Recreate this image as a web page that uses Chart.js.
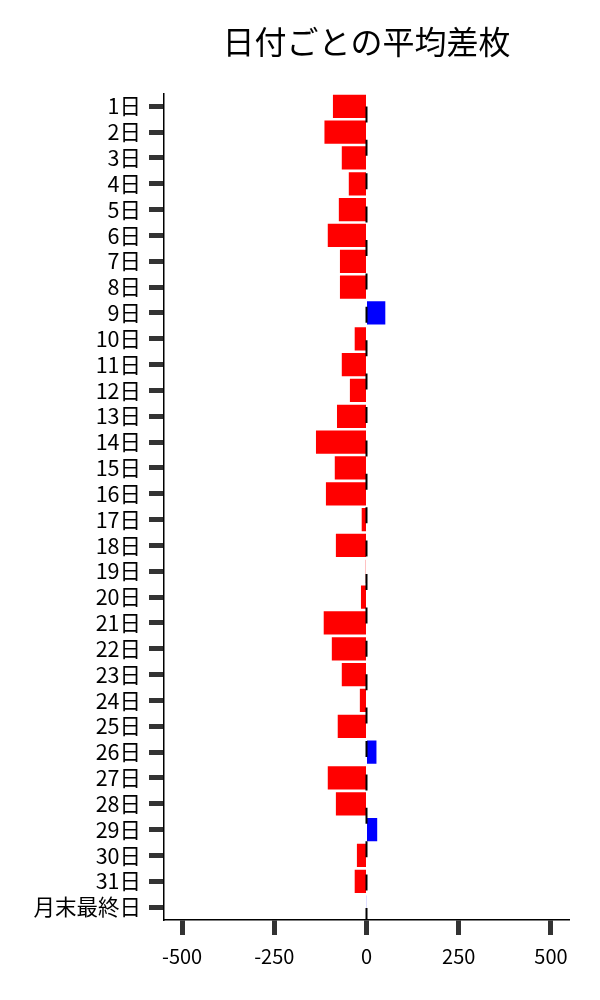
<!DOCTYPE html>
<html>
<head>
<meta charset="utf-8">
<script src="https://cdn.jsdelivr.net/npm/chart.js@4/dist/chart.umd.min.js"></script>
<style>
html,body{margin:0;padding:0;background:#fff;}
#wrap{width:600px;height:1000px;position:relative;}
</style>
</head>
<body>
<div id="wrap"><canvas id="c"></canvas></div>
<script>
const categories = ['1日','2日','3日','4日','5日','6日','7日','8日','9日','10日','11日','12日','13日','14日','15日','16日','17日','18日','19日','20日','21日','22日','23日','24日','25日','26日','27日','28日','29日','30日','31日','月末最終日'];
const avgDiff = [-91,-114,-67,-48,-75,-105,-72,-72,51,-32,-67,-45,-80,-137,-86,-110,-13,-83,-2,-15,-116,-94,-67,-18,-78,27,-105,-83,29,-26,-32,1];
const xTicks = [-500,-250,0,250,500];
const titleText = '日付ごとの平均差枚';

const FONT = '"Noto Sans CJK JP", "Noto Sans", sans-serif';

const zeroLine = {
  id: 'zeroLine',
  afterDatasetsDraw(chart) {
    const {ctx, chartArea, scales} = chart;
    const x = scales.x.getPixelForValue(0);
    ctx.save();
    ctx.strokeStyle = '#000';
    ctx.lineWidth = 2;
    ctx.setLineDash([16, 17.4]);
    ctx.lineDashOffset = 20.4;
    ctx.beginPath();
    ctx.moveTo(x, chartArea.top);
    ctx.lineTo(x, chartArea.bottom);
    ctx.stroke();
    ctx.restore();
  }
};

new Chart(document.getElementById('c'), {
  type: 'bar',
  data: {
    labels: categories,
    datasets: [{
      data: avgDiff,
      backgroundColor: avgDiff.map(v => v < 0 ? '#ff0000' : '#0000ff'),
      borderWidth: 0,
      barPercentage: 0.9,
      categoryPercentage: 1.0
    }]
  },
  options: {
    indexAxis: 'y',
    responsive: true,
    maintainAspectRatio: false,
    animation: false,
    layout: { padding: { top: 0, right: 31, bottom: 0, left: 0 } },
    plugins: {
      legend: { display: false },
      tooltip: { enabled: false },
      title: {
        display: true,
        text: titleText,
        fullSize: false,
        color: '#000',
        font: { family: FONT, size: 32, weight: 'normal', lineHeight: 1.2 },
        padding: { top: 23, bottom: 32 }
      }
    },
    scales: {
      x: {
        type: 'linear',
        min: -549,
        max: 549,
        afterBuildTicks(scale) { scale.ticks = xTicks.map(v => ({ value: v })); },
        afterFit(scale) { scale.height = 80; },
        grid: { display: true, drawOnChartArea: false, drawTicks: true, tickLength: 15, tickWidth: 5, tickColor: '#333' },
        border: { display: true, color: '#000', width: 1.5 },
        ticks: { color: '#000', font: { family: FONT, size: 20 }, padding: 9 }
      },
      y: {
        type: 'category',
        offset: true,
        afterFit(scale) { scale.width = 164; },
        grid: { display: true, offset: false, drawOnChartArea: false, drawTicks: true, tickLength: 15, tickWidth: 5, tickColor: '#333' },
        border: { display: true, color: '#000', width: 1.5 },
        ticks: { color: '#000', font: { family: FONT, size: 21.5 }, padding: 8, autoSkip: false }
      }
    }
  },
  plugins: [zeroLine]
});
</script>
</body>
</html>
